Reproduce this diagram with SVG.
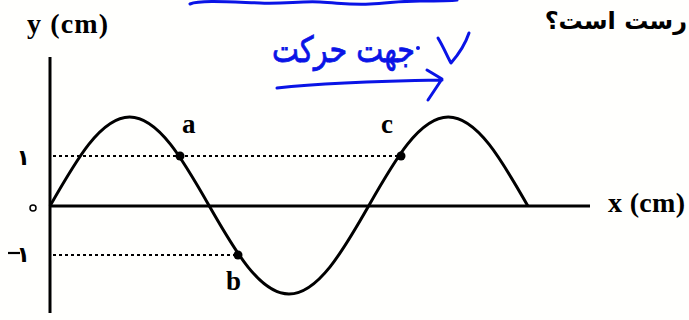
<svg xmlns="http://www.w3.org/2000/svg" width="689" height="320" viewBox="0 0 689 320">
<style>
.ax{stroke:#000;stroke-width:3;fill:none}
.dot{stroke:#000;stroke-width:2;stroke-dasharray:3 3;fill:none}
.wave{stroke:#000;stroke-width:3;fill:none}
.pt{fill:#000}
.ink{stroke:#0a14e6;stroke-width:3;fill:none;stroke-linecap:round;stroke-linejoin:round}
</style>
<rect width="689" height="320" fill="#fffffd"/>
<g id="annotation">
<path class="ink" d="M190,4 C200,0 230,2 260,3 C285,4 300,1 320,2 C340,3 350,5 370,4 C390,3 400,1 420,1 C440,1 450,1 457,0"/>
<text font-family="DejaVu Sans" fill="#0a14e6" stroke="#0a14e6" stroke-width="0.8" x="415" y="62" font-size="36" text-anchor="start" direction="rtl" textLength="143" lengthAdjust="spacingAndGlyphs">جهت حرکت</text>
<circle cx="418" cy="48" r="2" fill="#0a14e6"/>
<path class="ink" d="M438,38 C444,48 448,58 451,63 C458,55 465,45 469,33"/>
<path class="ink" d="M277,88 C320,83 380,81 442,80 M427,70 L442,79 L428,100"/>
</g>
<g id="question">
<text font-family="DejaVu Sans" fill="#000" x="687" y="29" font-size="24" font-weight="bold" text-anchor="start" direction="rtl">رست است؟</text>
</g>
<g id="axes">
<line class="ax" x1="50" y1="57" x2="50" y2="313"/>
<line class="ax" x1="50" y1="206" x2="590" y2="206"/>
<text font-family="Liberation Serif" font-weight="bold" fill="#000" x="27" y="33" font-size="28" textLength="81">y (cm)</text>
<text font-family="Liberation Serif" font-weight="bold" fill="#000" x="608" y="212" font-size="28" textLength="77">x (cm)</text>
<text font-family="DejaVu Sans" fill="#000" x="30" y="165" font-size="22" font-weight="bold" text-anchor="end">۱</text>
<circle cx="33" cy="208" r="3" fill="none" stroke="#000" stroke-width="1.5"/>
<text font-family="DejaVu Sans" fill="#000" x="30" y="262" font-size="22" font-weight="bold" text-anchor="end">۱</text>
<line x1="8" y1="253" x2="20" y2="253" stroke="#000" stroke-width="2.2"/>
</g>
<g id="guides">
<line class="dot" x1="53" y1="156" x2="401" y2="156"/>
<line class="dot" x1="53" y1="255" x2="238" y2="255"/>
</g>
<g id="wave">
<path class="wave" d="M50,206 C75.98,160.41 100.83,117 129.65,117 S183.32,160.41 209.3,206 S260.13,294 288.95,294 S342.62,251.59 368.6,206 S419.43,117 448.25,117 S501.92,160.41 527.9,206"/>
</g>
<g id="point-a">
<circle class="pt" cx="180" cy="156" r="4.5"/>
<text font-family="Liberation Serif" font-weight="bold" fill="#000" x="182" y="133" font-size="27">a</text>
</g>
<g id="point-b">
<circle class="pt" cx="238" cy="255" r="4.5"/>
<text font-family="Liberation Serif" font-weight="bold" fill="#000" x="226" y="290" font-size="27">b</text>
</g>
<g id="point-c">
<circle class="pt" cx="401" cy="156" r="4.5"/>
<text font-family="Liberation Serif" font-weight="bold" fill="#000" x="381" y="133" font-size="27">c</text>
</g>
</svg>
